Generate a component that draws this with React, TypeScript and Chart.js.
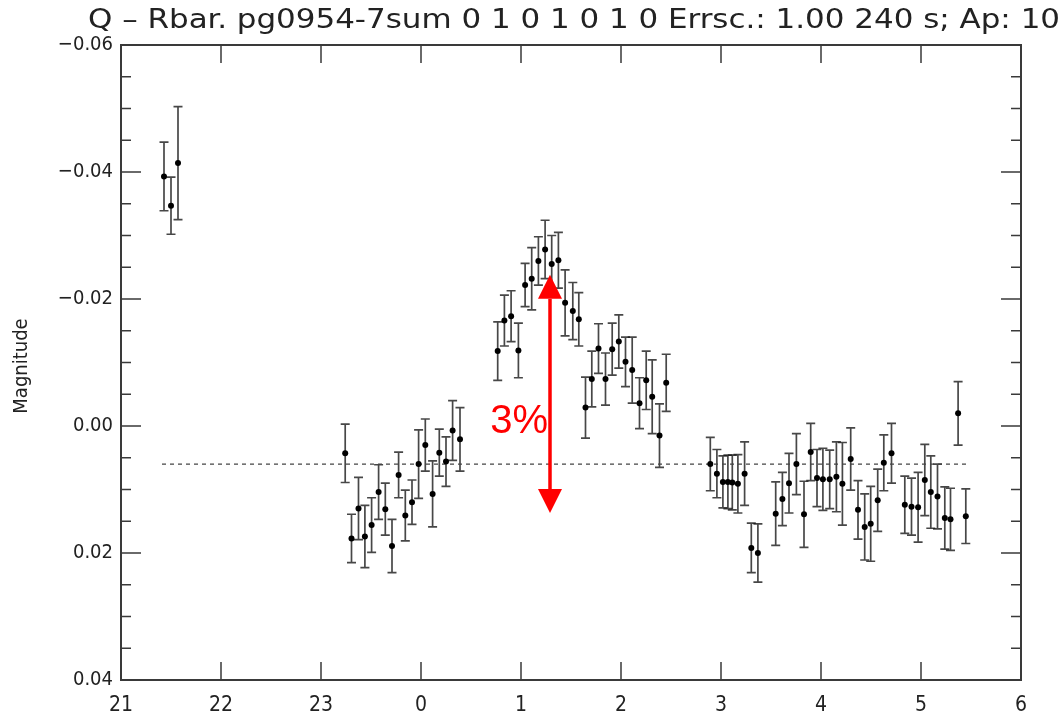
import React, { useEffect, useRef } from "react";
import { Chart, registerables } from "chart.js";

Chart.register(...registerables);

const titleText = "Q – Rbar. pg0954-7sum 0 1 0 1 0 1 0 Errsc.: 1.00 240 s; Ap: 10";
const yAxisTitle = "Magnitude";

const xTickValues = [21, 22, 23, 24, 25, 26, 27, 28, 29, 30];
const xTickLabels = ["21", "22", "23", "0", "1", "2", "3", "4", "5", "6"];
const yTickValues = [-0.06, -0.04, -0.02, 0, 0.02, 0.04];
const yTickLabels = ["−0.06", "−0.04", "−0.02", "0.00", "0.02", "0.04"];

// time (hours, continuing past 24), magnitude, error
const times = [
  21.43, 21.5, 21.57,
  23.242, 23.305, 23.375, 23.439, 23.506, 23.576, 23.643, 23.71, 23.776, 23.843, 23.91, 23.976,
  24.043, 24.116, 24.183, 24.25, 24.316, 24.39,
  24.767, 24.834, 24.901, 24.974, 25.041, 25.107, 25.174, 25.241, 25.307, 25.374, 25.441, 25.518,
  25.578, 25.645, 25.708, 25.775, 25.845, 25.912, 25.978, 26.045, 26.112, 26.185, 26.252, 26.312,
  26.385, 26.452,
  26.893, 26.959, 27.019, 27.069, 27.113, 27.169, 27.236, 27.303, 27.369, 27.547, 27.614, 27.68,
  27.754, 27.83, 27.897, 27.96, 28.019, 28.087, 28.154, 28.214, 28.297, 28.37, 28.437, 28.497,
  28.567, 28.628, 28.705, 28.838, 28.905, 28.971, 29.038, 29.098, 29.165, 29.238, 29.295, 29.371,
  29.448,
];
const mags = [
  -0.0393, -0.0347, -0.0414,
  0.0043, 0.0177, 0.013, 0.0174, 0.0156, 0.0104, 0.0131, 0.0189, 0.0077, 0.0141, 0.012, 0.006,
  0.003, 0.0107, 0.0042, 0.0056, 0.0007, 0.0021,
  -0.0118, -0.0166, -0.0173, -0.0119, -0.0222, -0.0232, -0.026, -0.0278, -0.0255, -0.0261, -0.0194, -0.0181,
  -0.0168, -0.0029, -0.0074, -0.0122, -0.0074, -0.0121, -0.0133, -0.0101, -0.0088, -0.0036, -0.0072, -0.0046,
  0.0015, -0.0068,
  0.006, 0.0075, 0.0088, 0.0088, 0.0089, 0.0091, 0.0075, 0.0192, 0.02, 0.0138, 0.0115, 0.009,
  0.006, 0.0139, 0.0041, 0.0082, 0.0084, 0.0084, 0.008, 0.0091, 0.0052, 0.0132, 0.0159, 0.0154,
  0.0117, 0.0058, 0.0043, 0.0124, 0.0127, 0.0128, 0.0085, 0.0104, 0.0111, 0.0145, 0.0147, -0.002,
  0.0142,
];
const errs = [
  0.0054, 0.0045, 0.0089,
  0.0046, 0.0038, 0.0049, 0.0049, 0.0043, 0.0043, 0.0041, 0.0042, 0.0036, 0.004, 0.0035, 0.0054,
  0.0041, 0.0052, 0.0037, 0.0039, 0.0047, 0.005,
  0.0046, 0.004, 0.004, 0.0043, 0.0034, 0.0049, 0.0038, 0.0046, 0.0045, 0.0044, 0.0052, 0.0045,
  0.0042, 0.0048, 0.0044, 0.0039, 0.0041, 0.0041, 0.0042, 0.0039, 0.0052, 0.004, 0.0046, 0.0058,
  0.005, 0.0045,
  0.0042, 0.0038, 0.0041, 0.0042, 0.0043, 0.0046, 0.005, 0.0039, 0.0046, 0.005, 0.0042, 0.0047,
  0.0048, 0.0052, 0.0045, 0.0045, 0.0049, 0.0046, 0.0055, 0.0065, 0.0049, 0.0046, 0.0052, 0.0059,
  0.0049, 0.0044, 0.0047, 0.0045, 0.0045, 0.0055, 0.0056, 0.0057, 0.0051, 0.0049, 0.0049, 0.005,
  0.0043,
];

const meanLevel = [0.006, 0.006];
const meanRange = [21.41, 29.49];

const arrowX = 25.29;
const arrowTop = -0.0238;
const arrowBottom = 0.0137;
const arrowLabel = "3%";
const arrowLabelY = -0.0006;

const NARROW = '"Liberation Sans Narrow", "DejaVu Sans Condensed", "Liberation Sans", sans-serif';

const errorBarPlugin = {
  id: "errorBars",
  beforeDatasetsDraw(chart: any) {
    const { ctx, scales } = chart;
    const x = scales.x, y = scales.y;
    ctx.save();
    ctx.strokeStyle = "rgba(25,25,25,0.8)";
    ctx.lineWidth = 1.7;
    for (let i = 0; i < times.length; i++) {
      const px = x.getPixelForValue(times[i]);
      const y1 = y.getPixelForValue(mags[i] - errs[i]);
      const y2 = y.getPixelForValue(mags[i] + errs[i]);
      ctx.beginPath();
      ctx.moveTo(px, y1);
      ctx.lineTo(px, y2);
      ctx.moveTo(px - 4.5, y1);
      ctx.lineTo(px + 4.5, y1);
      ctx.moveTo(px - 4.5, y2);
      ctx.lineTo(px + 4.5, y2);
      ctx.stroke();
    }
    ctx.restore();
  },
};

const framePlugin = {
  id: "idlFrame",
  afterDatasetsDraw(chart: any) {
    const { ctx, chartArea, scales } = chart;
    const { left, right, top, bottom } = chartArea;
    const x = scales.x, y = scales.y;
    ctx.save();
    ctx.strokeStyle = "#3a3a3a";
    ctx.lineWidth = 2;
    ctx.strokeRect(left, top, right - left, bottom - top);
    ctx.lineWidth = 1.5;
    ctx.beginPath();
    for (const v of xTickValues) {
      const px = x.getPixelForValue(v);
      ctx.moveTo(px, bottom);
      ctx.lineTo(px, bottom - 18);
      ctx.moveTo(px, top);
      ctx.lineTo(px, top + 18);
    }
    const yMin = yTickValues[0], yMax = yTickValues[yTickValues.length - 1];
    for (let k = 0; k <= Math.round((yMax - yMin) / 0.005); k++) {
      const v = yMin + k * 0.005;
      const major = k % 4 === 0;
      const len = major ? 20 : 10;
      const py = y.getPixelForValue(v);
      ctx.moveTo(left, py);
      ctx.lineTo(left + len, py);
      ctx.moveTo(right, py);
      ctx.lineTo(right - len, py);
    }
    ctx.stroke();
    ctx.restore();
  },
  afterDraw(chart: any) {
    const { ctx, scales, chartArea } = chart;
    const x = scales.x, y = scales.y;
    ctx.save();
    // title
    ctx.fillStyle = "#222";
    ctx.font = `27px ${NARROW}`;
    ctx.textBaseline = "alphabetic";
    ctx.textAlign = "left";
    const w = ctx.measureText(titleText).width;
    const target = 1060 - 88;
    ctx.save();
    ctx.translate(88, 28);
    ctx.scale(target / w, 1);
    ctx.fillText(titleText, 0, 0);
    ctx.restore();
    // y axis title
    ctx.save();
    ctx.font = `20px ${NARROW}`;
    ctx.fillStyle = "#222";
    ctx.translate(22, 366);
    ctx.rotate(-Math.PI / 2);
    ctx.textAlign = "center";
    ctx.textBaseline = "middle";
    ctx.fillText(yAxisTitle, 0, 0);
    ctx.restore();
    // red arrow
    const ax = x.getPixelForValue(arrowX);
    const at = y.getPixelForValue(arrowTop);
    const ab = y.getPixelForValue(arrowBottom);
    const head = 24, hw = 12;
    ctx.strokeStyle = "#ff0000";
    ctx.fillStyle = "#ff0000";
    ctx.lineWidth = 3.5;
    ctx.beginPath();
    ctx.moveTo(ax, at + head);
    ctx.lineTo(ax, ab - head);
    ctx.stroke();
    ctx.beginPath();
    ctx.moveTo(ax, at);
    ctx.lineTo(ax - hw, at + head);
    ctx.lineTo(ax + hw, at + head);
    ctx.closePath();
    ctx.fill();
    ctx.beginPath();
    ctx.moveTo(ax, ab);
    ctx.lineTo(ax - hw, ab - head);
    ctx.lineTo(ax + hw, ab - head);
    ctx.closePath();
    ctx.fill();
    ctx.font = '40px "Liberation Sans", Arial, sans-serif';
    ctx.textAlign = "right";
    ctx.textBaseline = "middle";
    ctx.fillText(arrowLabel, ax - 2, y.getPixelForValue(arrowLabelY));
    ctx.restore();
  },
};

export default function App() {
  const ref = useRef<HTMLCanvasElement | null>(null);
  useEffect(() => {
    document.body.style.margin = "0";
    const canvas = ref.current;
    if (!canvas) return;
    const points = times.map((t, i) => ({ x: t, y: mags[i] }));
    const chart = new Chart(canvas, {
      type: "scatter",
      data: {
        datasets: [
          {
            data: points,
            backgroundColor: "#000",
            borderColor: "#000",
            pointRadius: 3,
            pointStyle: "circle",
            borderWidth: 0,
          },
          {
            type: "line",
            data: meanRange.map((t, i) => ({ x: t, y: meanLevel[i] })),
            borderColor: "#444",
            borderWidth: 1.3,
            borderDash: [4, 4],
            pointRadius: 0,
            fill: false,
          } as any,
        ],
      },
      options: {
        responsive: false,
        animation: false,
        events: [],
        layout: { padding: { top: 45, right: 40, left: 0, bottom: 0 } },
        plugins: { legend: { display: false }, tooltip: { enabled: false }, title: { display: false } },
        scales: {
          x: {
            type: "linear",
            min: 21,
            max: 30,
            grid: { display: false, drawTicks: false },
            border: { display: false },
            afterBuildTicks: (s: any) => {
              s.ticks = xTickValues.map((v) => ({ value: v }));
            },
            afterFit: (s: any) => {
              s.height = 40;
            },
            ticks: {
              padding: 13,
              color: "#222",
              font: { family: NARROW, size: 21 },
              maxRotation: 0,
              autoSkip: false,
              callback: (v: any) => xTickLabels[xTickValues.indexOf(Math.round(Number(v)))] ?? "",
            },
          },
          y: {
            type: "linear",
            reverse: true,
            min: -0.06,
            max: 0.04,
            grid: { display: false, drawTicks: false },
            border: { display: false },
            afterBuildTicks: (s: any) => {
              s.ticks = yTickValues.map((v) => ({ value: v }));
            },
            afterFit: (s: any) => {
              s.width = 121;
            },
            ticks: {
              padding: 8,
              color: "#222",
              font: { family: NARROW, size: 20 },
              autoSkip: false,
              callback: (v: any) => {
                const idx = yTickValues.findIndex((t) => Math.abs(t - Number(v)) < 1e-9);
                return idx >= 0 ? yTickLabels[idx] : "";
              },
            },
          },
        },
      },
      plugins: [errorBarPlugin, framePlugin],
    });
    return () => chart.destroy();
  }, []);
  return (
    <div style={{ width: 1061, height: 720, position: "relative" }}>
      <canvas ref={ref} width={1061} height={720} style={{ display: "block" }} />
    </div>
  );
}
